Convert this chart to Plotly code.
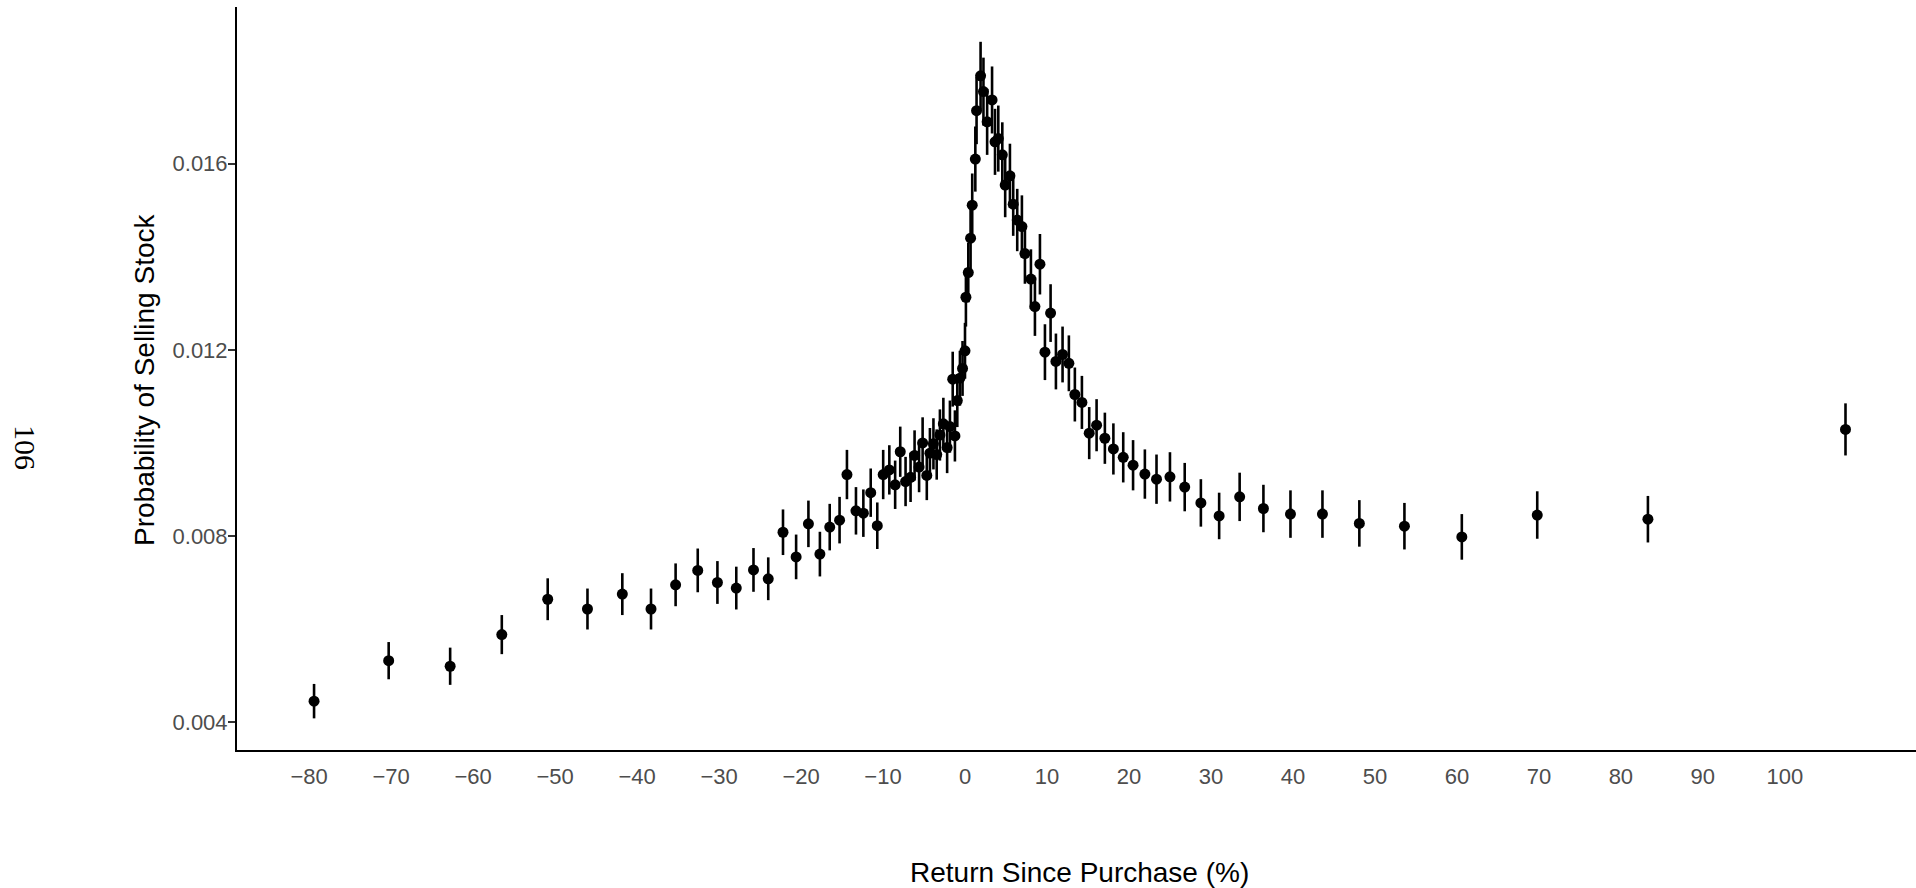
import plotly.graph_objects as go

# Return since purchase (%) for each bin
returns = [
    -79.4, -70.3, -62.8, -56.5, -50.9, -46.05, -41.8, -38.3, -35.3, -32.6,
    -30.2, -27.9, -25.8, -24.0, -22.2, -20.6, -19.1, -17.7, -16.5, -15.3,
    -14.4, -13.3, -12.4, -11.5, -10.7, -9.98, -9.23, -8.52, -7.9, -7.25,
    -6.64, -6.15, -5.6, -5.17, -4.66, -4.28, -3.85, -3.45, -3.06, -2.64,
    -2.18, -1.84, -1.5, -1.23, -0.94, -0.62, -0.3,
    0.0, 0.11, 0.4, 0.68, 0.88, 1.26, 1.41, 1.9, 2.25, 2.7,
    3.3, 3.66, 4.06, 4.55, 4.9, 5.48, 5.88, 6.37, 6.94, 7.31,
    8.04, 8.53, 9.14, 9.75, 10.44, 11.09, 11.9, 12.67, 13.4, 14.26,
    15.15, 16.05, 17.06, 18.1, 19.3, 20.5, 21.94, 23.36, 25.0, 26.8,
    28.77, 31.0, 33.5, 36.4, 39.7, 43.6, 48.1, 53.6, 60.6, 69.8,
    83.3, 107.4,
]

# Estimated probability of selling in each bin
sell_prob = [
    0.00445, 0.00532, 0.00520, 0.00588, 0.00664, 0.00643, 0.00675, 0.00643, 0.00695, 0.00726,
    0.00700, 0.00688, 0.00727, 0.00708, 0.00808, 0.00755, 0.00826, 0.00761, 0.00819, 0.00834,
    0.00932, 0.00854, 0.00849, 0.00893, 0.00822, 0.00932, 0.00942, 0.00910, 0.00981, 0.00917,
    0.00926, 0.00973, 0.00948, 0.01000, 0.00930, 0.00978, 0.00998, 0.00975, 0.01017, 0.01041,
    0.00990, 0.01035, 0.01137, 0.01015, 0.01091, 0.01139, 0.01160,
    0.01198, 0.01313, 0.01366, 0.01440, 0.01511, 0.01610, 0.01714, 0.01789, 0.01755, 0.01690,
    0.01737, 0.01647, 0.01654, 0.01619, 0.01554, 0.01574, 0.01513, 0.01479, 0.01465, 0.01407,
    0.01352, 0.01293, 0.01384, 0.01195, 0.01279, 0.01175, 0.01190, 0.01171, 0.01104, 0.01087,
    0.01021, 0.01038, 0.01010, 0.00987, 0.00969, 0.00952, 0.00933, 0.00922, 0.00927, 0.00905,
    0.00871, 0.00843, 0.00884, 0.00859, 0.00847, 0.00847, 0.00827, 0.00821, 0.00798, 0.00845,
    0.00836, 0.01029,
]

# Half-width of the confidence interval for each bin
ci_half = [
    0.00037, 0.00040, 0.00040, 0.00042, 0.00045, 0.00044, 0.00045, 0.00044, 0.00046, 0.00047,
    0.00046, 0.00046, 0.00047, 0.00046, 0.00049, 0.00048, 0.00050, 0.00048, 0.00050, 0.00050,
    0.00053, 0.00051, 0.00051, 0.00052, 0.00050, 0.00053, 0.00053, 0.00052, 0.00054, 0.00053,
    0.00053, 0.00054, 0.00054, 0.00055, 0.00053, 0.00054, 0.00055, 0.00054, 0.00055, 0.00056,
    0.00055, 0.00056, 0.00059, 0.00055, 0.00057, 0.00059, 0.00059,
    0.00060, 0.00063, 0.00064, 0.00066, 0.00068, 0.00070, 0.00072, 0.00073, 0.00073, 0.00071,
    0.00072, 0.00071, 0.00071, 0.00070, 0.00069, 0.00069, 0.00068, 0.00067, 0.00067, 0.00065,
    0.00064, 0.00063, 0.00065, 0.00060, 0.00062, 0.00060, 0.00060, 0.00060, 0.00058, 0.00057,
    0.00056, 0.00056, 0.00055, 0.00055, 0.00054, 0.00054, 0.00053, 0.00053, 0.00053, 0.00052,
    0.00051, 0.00050, 0.00052, 0.00051, 0.00051, 0.00051, 0.00050, 0.00050, 0.00049, 0.00051,
    0.00050, 0.00056,
]

x_ticks = list(range(-80, 101, 10))
y_ticks = [0.004, 0.008, 0.012, 0.016]

SANS = "Liberation Sans, Arial, Helvetica, sans-serif"

fig = go.Figure(
    go.Scatter(
        x=returns,
        y=sell_prob,
        mode="markers",
        marker=dict(color="black", size=11),
        error_y=dict(type="data", array=ci_half, visible=True,
                     color="black", thickness=2.6, width=0),
        showlegend=False,
        hoverinfo="x+y",
    )
)

fig.update_layout(
    width=1916,
    height=888,
    margin=dict(l=237, r=0, t=7, b=138),
    paper_bgcolor="white",
    plot_bgcolor="white",
    font=dict(family=SANS, color="black"),
)

fig.update_xaxes(
    range=[-88.8, 116.0],
    tickvals=x_ticks,
    ticks="",
    ticklabelstandoff=6,
    tickfont=dict(family=SANS, size=22, color="#4d4d4d"),
    showgrid=False,
    zeroline=False,
    showline=True,
    linecolor="black",
    linewidth=2,
)

fig.update_yaxes(
    range=[0.0034, 0.019368],
    tickvals=y_ticks,
    tickformat=".3f",
    ticks="outside",
    ticklen=7,
    tickwidth=2,
    tickcolor="#333333",
    ticklabelstandoff=-4,
    tickfont=dict(family=SANS, size=22, color="#4d4d4d"),
    showgrid=False,
    zeroline=False,
    showline=True,
    linecolor="black",
    linewidth=2,
)

# Axis titles
fig.add_annotation(
    text="Return Since Purchase (%)",
    xref="paper", yref="paper", x=0.502, y=-0.1642,
    xanchor="center", yanchor="middle", showarrow=False,
    font=dict(family=SANS, size=28, color="black"),
)
fig.add_annotation(
    text="Probability of Selling Stock",
    xref="paper", yref="paper", x=-0.0554, y=0.4993,
    xanchor="center", yanchor="middle", showarrow=False, textangle=-90,
    font=dict(family=SANS, size=28, color="black"),
)

# Page number printed along the margin
fig.add_annotation(
    text="106",
    xref="paper", yref="paper", x=-0.1263, y=0.4065,
    xanchor="center", yanchor="middle", showarrow=False, textangle=90,
    font=dict(family="Liberation Serif, Times New Roman, serif", size=30, color="black"),
)

fig.write_html("out.html")
